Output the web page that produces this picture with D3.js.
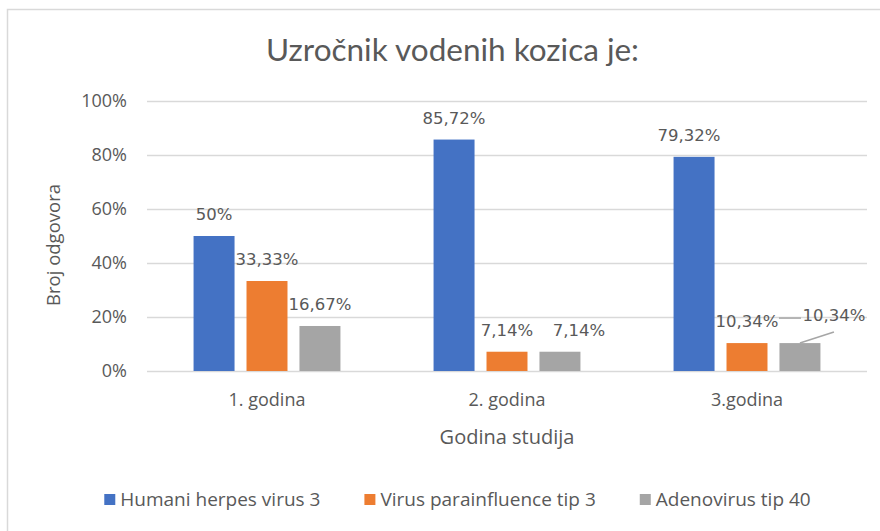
<!DOCTYPE html>
<html>
<head>
<meta charset="utf-8">
<script src="https://cdn.jsdelivr.net/npm/d3@7"></script>
<style>
  html, body { margin: 0; padding: 0; background: #ffffff; }
  svg { display: block; }
</style>
</head>
<body>
<svg id="chart" width="880" height="531"></svg>
<script>
// ---- data ----
const title = "Uzročnik vodenih kozica je:";
const categories = ["1. godina", "2. godina", "3.godina"];
const seriesNames = ["Humani herpes virus 3", "Virus parainfluence tip 3", "Adenovirus tip 40"];
const herpesValues = [50, 85.72, 79.32];
const parainfluenceValues = [33.33, 7.14, 10.34];
const adenovirusValues = [16.67, 7.14, 10.34];
const yTicks = [0, 20, 40, 60, 80, 100];
const yAxisTitle = "Broj odgovora";
const xAxisTitle = "Godina studija";

// ---- styles ----
const colors = ["#4472c4", "#ed7d31", "#a5a5a5"];
const textColor = "#595959";
const gridColor = "#d9d9d9";
const labelFont = "'DejaVu Sans', Verdana, sans-serif";
const mainFont = "'Open Sans', sans-serif";
// manually moved data labels (series index, category index) -> [dx, dy]
const labelShift = { "2-1": [19, 0], "0-2": [-5, 0], "2-2": [34, -6] };

const seriesValues = [herpesValues, parainfluenceValues, adenovirusValues];

const svg = d3.select("#chart");
const W = 880, H = 531;
const plot = { left: 147, right: 867, top: 101, bottom: 371 };

// border
svg.append("rect")
  .attr("x", 7.5).attr("y", 9.5)
  .attr("width", W + 10).attr("height", H + 10)
  .attr("fill", "#fff").attr("stroke", gridColor).attr("stroke-width", 1.5);

const y = d3.scaleLinear().domain([0, 100]).range([plot.bottom, plot.top]);
const x0 = d3.scaleBand().domain(categories).range([plot.left, plot.right]).padding(0);
const groupW = x0.bandwidth() * 0.612;
const x1 = d3.scaleBand().domain(d3.range(seriesNames.length)).range([0, groupW])
  .paddingInner(0.226).paddingOuter(0);

// title
svg.append("text")
  .attr("x", 452.5).attr("y", 61)
  .attr("text-anchor", "middle")
  .attr("font-family", "Lato, sans-serif").attr("font-size", 31.5)
  .attr("fill", textColor).text(title);

// gridlines
svg.append("g").selectAll("line").data(yTicks).join("line")
  .attr("x1", plot.left).attr("x2", plot.right)
  .attr("y1", d => Math.round(y(d)) + 0.5).attr("y2", d => Math.round(y(d)) + 0.5)
  .attr("stroke", gridColor).attr("stroke-width", 1.3);

// y axis labels
const yAxis = d3.axisLeft(y).tickValues(yTicks).tickSize(0).tickPadding(0)
  .tickFormat(d => d + "%");
const gy = svg.append("g").attr("transform", `translate(127,0)`).call(yAxis);
gy.select(".domain").remove();
gy.selectAll("text").attr("font-family", mainFont).attr("font-size", 18)
  .attr("fill", textColor);

// x axis labels
const xAxis = d3.axisBottom(x0).tickSize(0).tickPadding(0);
const gx = svg.append("g").attr("transform", `translate(0,${plot.bottom + 22})`).call(xAxis);
gx.select(".domain").remove();
gx.selectAll("text").attr("font-family", mainFont).attr("font-size", 18)
  .attr("fill", textColor);

// bars
const groupOffset = (x0.bandwidth() - groupW) / 2;
seriesValues.forEach((vals, si) => {
  svg.append("g").selectAll("rect").data(vals).join("rect")
    .attr("x", (d, ci) => x0(categories[ci]) + groupOffset + x1(si))
    .attr("y", d => y(d))
    .attr("width", x1.bandwidth())
    .attr("height", d => y(0) - y(d))
    .attr("fill", colors[si]);
});

// data labels
const fmt = v => (Number.isInteger(v) ? String(v) : v.toFixed(2).replace(".", ",")) + "%";
seriesValues.forEach((vals, si) => {
  vals.forEach((v, ci) => {
    const cx = x0(categories[ci]) + groupOffset + x1(si) + x1.bandwidth() / 2;
    const sh = labelShift[si + "-" + ci] || [0, 0];
    const lx = cx + sh[0], ly = y(v) - 16 + sh[1];
    svg.append("text")
      .attr("x", lx).attr("y", ly)
      .attr("text-anchor", "middle")
      .attr("font-family", labelFont).attr("font-size", 16.5)
      .attr("fill", textColor).text(fmt(v));
    if (si === 2 && ci === 2) {
      // leader lines
      svg.append("line").attr("x1", cx).attr("y1", y(v))
        .attr("x2", lx).attr("y2", ly + 11)
        .attr("stroke", "#a6a6a6").attr("stroke-width", 1.5);
      svg.append("line").attr("x1", lx - 55).attr("y1", ly - 3)
        .attr("x2", lx - 33).attr("y2", ly - 3)
        .attr("stroke", "#a6a6a6").attr("stroke-width", 1.5);
    }
  });
});

// axis titles
svg.append("text")
  .attr("x", (plot.left + plot.right) / 2).attr("y", 444)
  .attr("text-anchor", "middle")
  .attr("font-family", mainFont).attr("font-size", 20)
  .attr("fill", textColor).text(xAxisTitle);
svg.append("text")
  .attr("transform", `translate(60,245) rotate(-90)`)
  .attr("text-anchor", "middle")
  .attr("font-family", mainFont).attr("font-size", 18.5)
  .attr("fill", textColor).text(yAxisTitle);

// legend
const legend = svg.append("g");
let lxPos = 0;
const legendGap = 44;
seriesNames.forEach((name, i) => {
  const g = legend.append("g");
  g.append("rect").attr("x", 0).attr("y", -12).attr("width", 11).attr("height", 11)
    .attr("fill", colors[i]);
  const t = g.append("text").attr("x", 16).attr("y", 0)
    .attr("font-family", mainFont).attr("font-size", 19)
    .attr("fill", textColor).text(name);
  const w = 16 + t.node().getComputedTextLength();
  g.attr("transform", `translate(${lxPos},0)`);
  lxPos += w + legendGap;
});
const legendW = lxPos - legendGap;
legend.attr("transform", `translate(${457.5 - legendW / 2},506)`);
</script>
</body>
</html>
